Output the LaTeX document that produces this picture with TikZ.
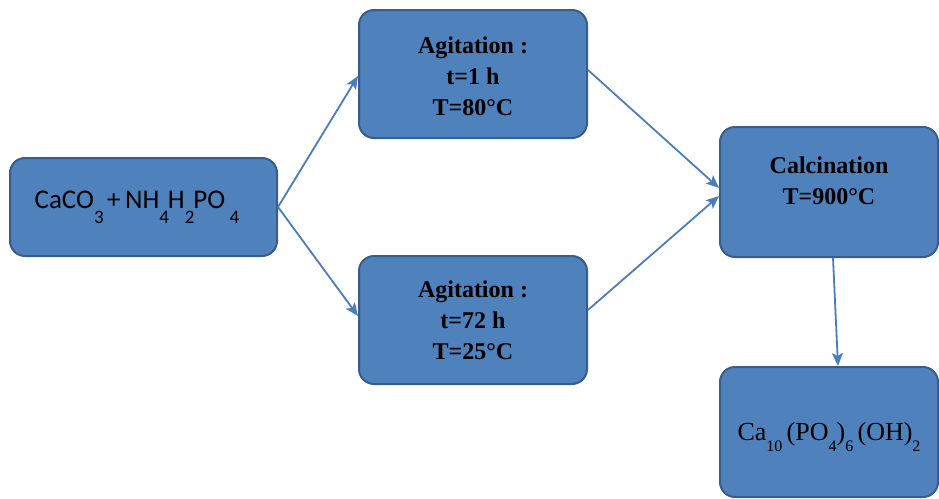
\documentclass[tikz,border=0pt]{standalone}
\usepackage{fontspec}
\setmainfont{Liberation Serif}
\newfontfamily\carlito{Carlito}
\usepackage{tikz}
\usetikzlibrary{arrows.meta}
\definecolor{boxblue}{RGB}{79,129,189}
\definecolor{boxedge}{RGB}{56,93,138}
\definecolor{arrowblue}{RGB}{74,126,187}
\tikzstyle{block} = [rectangle, rounded corners=15pt, minimum width=228pt, minimum height=128pt, text centered, align=center, draw=boxedge, line width=2pt, fill=boxblue, font=\fontsize{24}{31}\selectfont\bfseries]
\tikzstyle{block2} = [block, minimum width=267pt, minimum height=98pt, font=\carlito\fontsize{27}{30}\selectfont]
\tikzstyle{block3} = [block, minimum width=218pt, minimum height=130pt]
\tikzstyle{arrow} = [draw=arrowblue, line width=1.8pt, -{Stealth[length=13pt,width=11pt,inset=3pt]}]
\newcommand{\lowsub}[2][-15pt]{\raisebox{#1}{\fontsize{19}{19}\selectfont #2}\kern-1pt}
\newcommand{\smallsub}[2][-11pt]{\raisebox{#1}{\fontsize{16}{16}\selectfont #2}}

\begin{document}
\begin{tikzpicture}[node distance=330pt]
        \useasboundingbox (0,0) rectangle (939pt,-498pt);
        \node (start) [block2] at (143.5pt,-207pt) {CaCO\lowsub{3}\,+\,NH\lowsub{4}H\lowsub{2}PO\,\lowsub{4}\hspace*{14pt}};
        \node (agit1) [block, right of=start, xshift=-0.5pt, yshift=+133pt] {\rule{0pt}{21pt}Agitation :\\t=1 h\\T=80°C};
        \node (agit2) [block, right of=start, xshift=-0.5pt, yshift=-113pt] {Agitation :\\t=72 h\\T=25°C};
        \node (calc) [block3, right of=agit1, xshift=+26pt, yshift=-118pt] {Calcination\\T=900°C\rule[-22pt]{0pt}{0pt}};
        \node (prod) [block3, below of=calc, yshift=+90pt, font=\fontsize{26}{30}\selectfont] {\rule{0pt}{28pt}Ca\smallsub{10}\,(PO\smallsub{4})\smallsub{6}\,(OH)\smallsub{2}};

        \draw [arrow] (start.east) -- ([yshift=-2pt]agit1.west);
        \draw [arrow] (start.east) -- ([yshift=+4pt]agit2.west);
        \draw [arrow] ([yshift=+4pt]agit1.east) -- ([yshift=+4pt]calc.west);
        \draw [arrow] ([yshift=+10pt]agit2.east) -- ([yshift=-4pt]calc.west);
        \draw [arrow] ([xshift=+4pt]calc.south) -- ([xshift=+9pt]prod.north);
     \end{tikzpicture}
\end{document}
